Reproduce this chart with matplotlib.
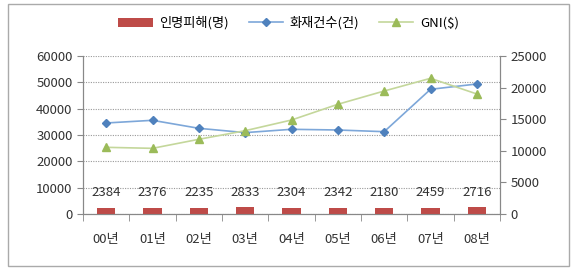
import numpy as np
import matplotlib.pyplot as plt
from matplotlib.patches import Rectangle

plt.rcParams['font.family'] = ['Noto Sans CJK KR', 'DejaVu Sans']

years = ['00년', '01년', '02년', '03년', '04년', '05년', '06년', '07년', '08년']
casualties = [2384, 2376, 2235, 2833, 2304, 2342, 2180, 2459, 2716]
fires = [34560, 35580, 32540, 30900, 32160, 31900, 31260, 47350, 49370]
gni = [10550, 10390, 11820, 13180, 14870, 17360, 19460, 21470, 18990]

fig = plt.figure(figsize=(5.77, 2.70), dpi=100)
ax = fig.add_axes([83 / 577, 1 - 214 / 270, (500 - 83) / 577, (214 - 56) / 270])
ax2 = ax.twinx()

x = np.arange(len(years))
bars = ax.bar(x, casualties, width=0.4, color='#BE4B48', zorder=3, label='인명피해(명)')
l1, = ax.plot(x, fires, color='#7DA7D9', marker='D', markersize=4.5,
              markerfacecolor='#4F81BD', markeredgecolor='#4F81BD', lw=1.2,
              zorder=4, label='화재건수(건)')
l2, = ax2.plot(x, gni, color='#C4D79B', marker='^', markersize=6,
               markerfacecolor='#9BBB59', markeredgecolor='#9BBB59', lw=1.2,
               zorder=4, label='GNI($)')

# 막대 값 표시
for xi, v in zip(x, casualties):
    ax.text(xi, 8100, str(v), ha='center', va='center', fontsize=9.5, color='#333333', zorder=5)

ax.set_ylim(0, 60000)
ax.set_yticks(range(0, 60001, 10000))
ax2.set_ylim(0, 25000)
ax2.set_yticks(range(0, 25001, 5000))
ax.set_xlim(-0.5, len(years) - 0.5)
ax.set_xticks(x)
ax.set_xticklabels(years)
ax.set_xticks(np.arange(-0.5, len(years), 1), minor=True)
ax.tick_params(axis='x', which='major', length=0, pad=14, labelsize=9.5, colors='#333333')
ax.tick_params(axis='x', which='minor', length=5, color='#888888', direction='out')
ax.tick_params(axis='y', length=4, color='#888888', labelsize=9.5, labelcolor='#333333')
ax2.tick_params(axis='y', length=4, color='#888888', labelsize=9.5, labelcolor='#333333')

ax.yaxis.grid(True, linestyle=(0, (1, 1.2)), color='#999999', lw=0.8, zorder=0)
ax.set_axisbelow(True)
for a in (ax, ax2):
    a.spines['top'].set_visible(False)
    for s in ('left', 'right', 'bottom'):
        a.spines[s].set_color('#888888')

fig.legend([bars, l1, l2], ['인명피해(명)', '화재건수(건)', 'GNI($)'],
           loc='center', bbox_to_anchor=(0.5, 1 - 23 / 270), ncol=3, frameon=False,
           fontsize=9.5, handlelength=2.6, columnspacing=1.5, handletextpad=0.5)

fig.patches.append(Rectangle((8 / 577, 4 / 270), 1 - 16 / 577, 1 - 8 / 270,
                             transform=fig.transFigure, fill=False,
                             edgecolor='#AAAAAA', lw=1))

fig.savefig('out.png', dpi=100)
